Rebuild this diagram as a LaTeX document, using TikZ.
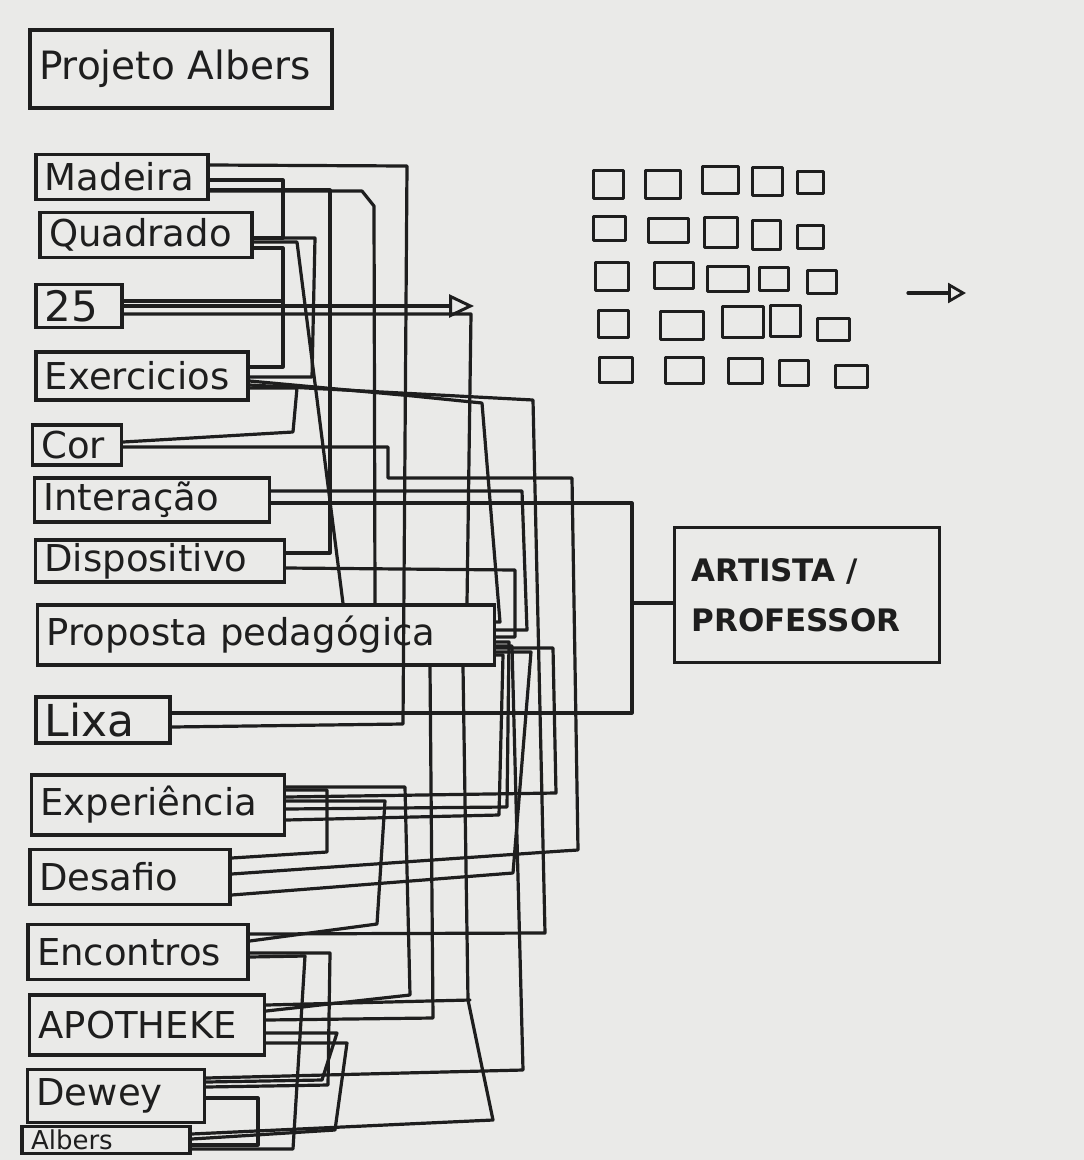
\documentclass[tikz,border=0pt]{standalone}
\usepackage{fontspec}
\setmainfont{DejaVu Sans}
\usetikzlibrary{arrows.meta}
\definecolor{paper}{HTML}{EAEAE8}
\definecolor{ink}{HTML}{1E1E1E}
\begin{document}
\begin{tikzpicture}[x=1pt,y=-1pt,
  box/.style={draw=ink, line width=3.4pt, inner xsep=9pt, inner ysep=0pt, align=left, text=ink, font=\fontsize{37}{40}\selectfont},
  conn/.style={draw=ink, line width=3.2pt, line join=round, line cap=round},
  sq/.style={draw=ink, line width=3pt, line join=round},
  opentip/.style={-{Triangle[open, length=25pt, width=23pt, line width=3pt]}}
]
\useasboundingbox[fill=paper] (0,0) rectangle (1084,1160);

% ---------- nodes ----------
\node[box, text width=284pt, minimum height=78pt, font=\fontsize{39}{42}\selectfont] (proj) at (181,69) {Projeto Albers};
\node[box, text width=154pt, minimum height=45pt] (madeira) at (122,177) {Madeira};
\node[box, text width=194pt, minimum height=45pt] (quadrado) at (146,235) {Quadrado};
\node[box, text width=68pt, minimum height=43pt, font=\fontsize{42}{44}\selectfont] (n25) at (79,306) {25};
\node[box, text width=194pt, minimum height=48pt] (exerc) at (142,376) {Exercicios};
\node[box, text width=71pt, minimum height=40pt] (cor) at (77,445) {Cor};
\node[box, text width=217pt, minimum height=44pt] (inter) at (152,500) {Interação};
\node[box, text width=231pt, minimum height=42pt] (disp) at (160,561) {Dispositivo};
\node[box, text width=439pt, minimum height=60pt] (prop) at (266,635) {Proposta pedagógica};
\node[box, text width=116pt, minimum height=46pt, font=\fontsize{44}{46}\selectfont] (lixa) at (103,720) {Lixa};
\node[box, text width=235pt, minimum height=60pt] (exper) at (158,805) {Experiência};
\node[box, text width=182pt, minimum height=55pt] (desafio) at (130,877) {Desafio};
\node[box, text width=202pt, minimum height=55pt] (encontros) at (138,952) {Encontros};
\node[box, text width=217pt, minimum height=60pt] (apoth) at (147,1025) {APOTHEKE};
\node[box, text width=159pt, minimum height=53pt] (dewey) at (116,1096) {Dewey};
\node[box, text width=150pt, minimum height=27pt, text height=19pt, text depth=0pt, font=\fontsize{26}{28}\selectfont] (albers) at (106,1140) {Albers};
\node[box, inner xsep=17pt, text width=231pt, minimum height=135pt, font=\bfseries\fontsize{31}{50}\selectfont] (artista) at (807,595) {ARTISTA /\\PROFESSOR};

% ---------- named free ends ----------
\coordinate (tipA) at (474,306);
\coordinate (j25) at (283,301);
\coordinate (bus) at (632,603);
\coordinate (jA) at (470,1000);
\coordinate (sa) at (908,293);
\coordinate (sb) at (966,293);

% ---------- connectors ----------
\draw[conn] (madeira.east |- 0,165) -- (407,166) -- (403,724) -- (lixa.east |- 0,727);
\draw[conn] (madeira.east |- 0,180) -- (283,180) -- (283,238) -- (quadrado.east |- 0,238);
\draw[conn] (quadrado.east |- 0,248) -- (283,248) -- (283,367) -- (exerc.east |- 0,367);
\draw[conn] (n25.east |- 0,301) -- (j25);
\draw[conn] (madeira.east |- 0,190) -- (330,190) -- (330,553) -- (disp.east |- 0,553);
\draw[conn] (madeira.east |- 0,191) -- (362,191) -- (374,206) -- (prop.north -| 375,0);
\draw[conn] (quadrado.east |- 0,238) -- (315,238) -- (312,377) -- (exerc.east |- 0,377);
\draw[conn] (quadrado.east |- 0,242) -- (297,242) -- (prop.north -| 343,0);
\draw[conn, opentip] (n25.east |- 0,306) -- (tipA);
\draw[conn] (n25.east |- 0,314) -- (471,314) -- (prop.north -| 467,0);
\draw[conn] (exerc.east |- 0,381) -- (413,396) -- (482,403) -- (500,622) -- (prop.east |- 0,622);
\draw[conn] (exerc.east |- 0,385) -- (533,400) -- (545,933) -- (encontros.east |- 0,934);
\draw[conn] (cor.east |- 0,442) -- (293,432) -- (297,388) -- (exerc.east |- 0,388);
\draw[conn] (cor.east |- 0,447) -- (388,447) -- (388,478) -- (572,478) -- (578,850) -- (562,851) -- (desafio.east |- 0,874);
\draw[conn] (inter.east |- 0,491) -- (522,491) -- (527,630) -- (prop.east |- 0,630);
\draw[conn] (inter.east |- 0,503) -- (632,503) -- (632,713) -- (lixa.east |- 0,713);
\draw[conn] (bus) -- (artista.west |- bus);
\draw[conn] (disp.east |- 0,568) -- (515,570) -- (515,637) -- (prop.east |- 0,637);
\draw[conn] (prop.south -| 430,0) -- (433,1018) -- (apoth.east |- 0,1020);
\draw[conn] (prop.south -| 463,0) -- (468,1000) -- (493,1120) -- (albers.east |- 0,1134);
\draw[conn] (apoth.east |- 0,1005) -- (jA);
\draw[conn] (prop.east |- 0,648) -- (553,648) -- (556,793) -- (exper.east |- 0,797);
\draw[conn] (exper.east |- 0,787) -- (405,787) -- (410,995) -- (apoth.east |- 0,1011);
\draw[conn] (exper.east |- 0,790) -- (327,790) -- (327,852) -- (desafio.east |- 0,858);
\draw[conn] (exper.east |- 0,801) -- (385,801) -- (377,924) -- (encontros.east |- 0,941);
\draw[conn] (exper.east |- 0,809) -- (507,807) -- (509,642) -- (prop.east |- 0,642);
\draw[conn] (exper.east |- 0,820) -- (499,815) -- (503,655) -- (prop.east |- 0,655);
\draw[conn] (desafio.east |- 0,895) -- (513,873) -- (531,652) -- (prop.east |- 0,652);
\draw[conn] (encontros.east |- 0,953) -- (330,953) -- (328,1085) -- (dewey.east |- 0,1087);
\draw[conn] (albers.east |- 0,1149) -- (293,1149) -- (305,956) -- (encontros.east |- 0,957);
\draw[conn] (dewey.east |- 0,1078) -- (523,1070) -- (512,646) -- (prop.east |- 0,646);
\draw[conn] (dewey.east |- 0,1098) -- (258,1098) -- (258,1145) -- (albers.east |- 0,1145);
\draw[conn] (apoth.east |- 0,1033) -- (337,1033) -- (322,1080) -- (dewey.east |- 0,1082);
\draw[conn] (apoth.east |- 0,1043) -- (347,1043) -- (335,1130) -- (albers.east |- 0,1139);

% ---------- grid of squares ----------
\foreach \a/\b/\c/\d in {
  593/170/623/198, 645/170/680/198, 702/166/738/193, 752/167/782/195, 797/171/823/193,
  593/216/625/240, 648/218/688/242, 704/217/737/247, 752/220/780/249, 797/225/823/248,
  595/262/628/290, 654/262/693/288, 707/266/748/291, 759/267/788/290, 807/270/836/293,
  598/310/628/337, 660/311/703/339, 722/306/763/337, 770/305/800/336, 817/318/849/340,
  599/357/632/382, 665/357/703/383, 728/358/762/383, 779/360/808/385, 835/365/867/387}
  \draw[sq] (\a,\b) rectangle (\c,\d);

% small arrow
\draw[conn, -{Triangle[open, length=18pt, width=20pt, line width=2.8pt]}] (sa) -- (sb);
\end{tikzpicture}
\end{document}
